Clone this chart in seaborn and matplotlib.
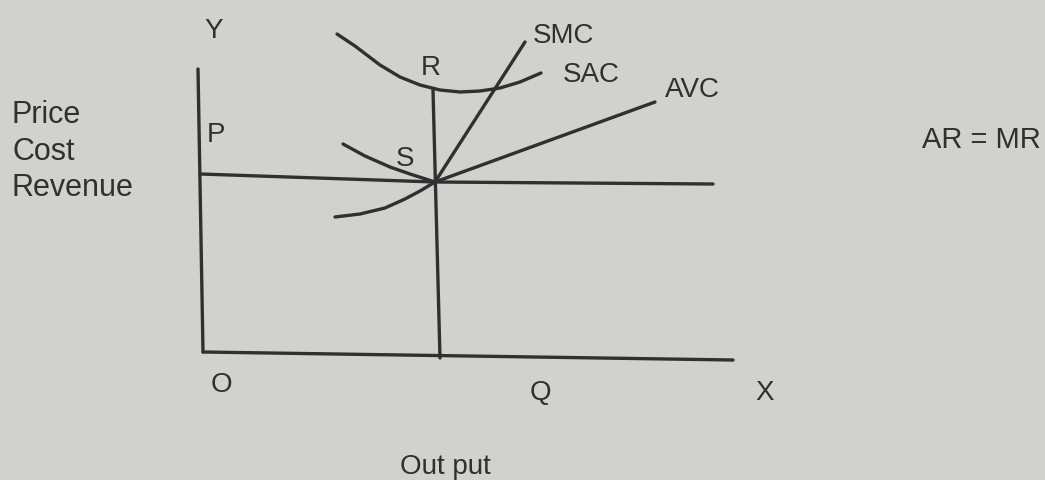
import matplotlib
matplotlib.use("Agg")
import matplotlib.pyplot as plt
import seaborn as sns

# Short-run equilibrium of a firm under perfect competition
# (output on x, price / cost / revenue on y)

# Axes of the diagram
y_axis_x = [-0.2, 0.3]
y_axis_y = [28.5, 0.2]
x_axis_x = [0.3, 53.3]
x_axis_y = [0.2, -0.6]

# Price line P (AR = MR)
price_x = [0.0, 23.5, 51.3]
price_y = [18.0, 17.2, 17.0]

# Vertical line from R down to output Q
qr_x = [23.3, 24.0]
qr_y = [26.4, -0.4]

# Short-run average cost (U-shaped)
sac_x = [13.7, 15.5, 18.0, 20.0, 22.0, 24.0, 26.0, 28.0, 30.0, 32.0, 34.1]
sac_y = [32.0, 30.8, 28.9, 27.7, 26.9, 26.4, 26.2, 26.3, 26.6, 27.2, 28.1]

# Short-run marginal cost
smc_x = [13.5, 16.0, 18.5, 20.5, 22.0, 23.5, 32.5]
smc_y = [13.7, 14.0, 14.6, 15.5, 16.3, 17.2, 31.2]

# Average variable cost
avc_x = [14.3, 16.5, 19.0, 21.0, 23.5, 45.5]
avc_y = [21.0, 19.8, 18.7, 18.0, 17.2, 25.2]

# Labels: text, x, baseline y, alignment, size
labels = [
    ("Y", 1.4, 31.7, "center", 20),
    ("P", 1.6, 21.3, "center", 20),
    ("R", 23.1, 28.0, "center", 20),
    ("S", 20.5, 18.9, "center", 20),
    ("SMC", 36.4, 31.2, "center", 20),
    ("SAC", 39.1, 27.3, "center", 20),
    ("AVC", 49.2, 25.8, "center", 20),
    ("AR = MR", 72.2, 20.7, "left", 21),
    ("O", 2.1, -3.7, "center", 20),
    ("Q", 34.0, -4.5, "center", 20),
    ("X", 56.5, -4.5, "center", 20),
    ("Out put", 24.5, -11.9, "center", 20),
    ("Price", -18.8, 23.2, "left", 22),
    ("Cost", -18.8, 19.5, "left", 22),
    ("Revenue", -18.8, 15.9, "left", 22),
]

paper = "#d1d1cd"
ink = "#303030"

sns.set_theme(style="white", rc={"axes.facecolor": paper, "figure.facecolor": paper})
plt.rcParams["font.family"] = ["Liberation Sans", "DejaVu Sans"]

fig = plt.figure(figsize=(10.45, 4.81), dpi=100)
ax = fig.add_axes([0, 0, 1, 1])
ax.set_xlim(-20.0, 84.5)
ax.set_ylim(-12.6, 35.5)

line_kw = dict(color=ink, linewidth=2.4, sort=False, estimator=None, ax=ax)
for xs, ys in [
    (y_axis_x, y_axis_y),
    (x_axis_x, x_axis_y),
    (price_x, price_y),
    (qr_x, qr_y),
    (sac_x, sac_y),
    (smc_x, smc_y),
    (avc_x, avc_y),
]:
    sns.lineplot(x=xs, y=ys, **line_kw)

for text, tx, ty, ha, size in labels:
    ax.text(tx, ty, text, ha=ha, va="baseline", fontsize=size, color=ink)

ax.set_axis_off()
fig.savefig("out.png", dpi=100, facecolor=paper)
